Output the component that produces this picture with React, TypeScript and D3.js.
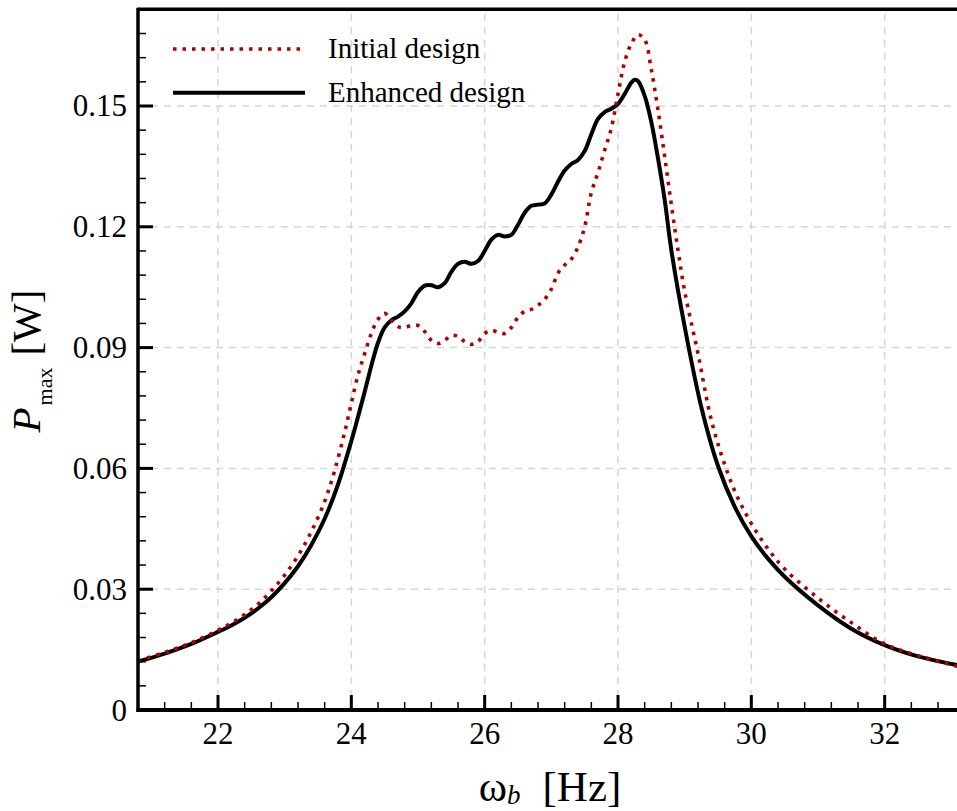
import React from "react";
import * as d3 from "d3";

const initialFreq = [20.8, 21.2, 21.6, 22.0, 22.2, 22.4, 22.6, 22.8, 23.0, 23.2, 23.4, 23.6, 23.75, 23.9, 24.0, 24.1, 24.2, 24.3, 24.4, 24.5, 24.6, 24.7, 24.8, 24.9, 25.0, 25.1, 25.2, 25.3, 25.4, 25.5, 25.6, 25.7, 25.8, 25.9, 26.0, 26.1, 26.2, 26.3, 26.4, 26.5, 26.6, 26.7, 26.8, 26.9, 27.0, 27.1, 27.2, 27.3, 27.4, 27.5, 27.6, 27.7, 27.8, 27.9, 28.0, 28.1, 28.2, 28.3, 28.4, 28.5, 28.6, 28.7, 28.8, 28.9, 29.0, 29.2, 29.4, 29.62, 29.8, 30.0, 30.25, 30.5, 31.0, 31.5, 32.0, 32.5, 33.1];
const initialPower = [0.0122, 0.0143, 0.0167, 0.0198, 0.0216, 0.0237, 0.0263, 0.0296, 0.0335, 0.0383, 0.0443, 0.0518, 0.0595, 0.0690, 0.0762, 0.0832, 0.0885, 0.0935, 0.0970, 0.0985, 0.0968, 0.0952, 0.0950, 0.0955, 0.0955, 0.0940, 0.0918, 0.0910, 0.0918, 0.0930, 0.0928, 0.0915, 0.0908, 0.0915, 0.0935, 0.0943, 0.0938, 0.0935, 0.0950, 0.0975, 0.0990, 0.0995, 0.1005, 0.1020, 0.1045, 0.1085, 0.1105, 0.1120, 0.1150, 0.1200, 0.1285, 0.1335, 0.1390, 0.1445, 0.1530, 0.1610, 0.1655, 0.1677, 0.1665, 0.1590, 0.1490, 0.1375, 0.1255, 0.1142, 0.1040, 0.0885, 0.0720, 0.0600, 0.0526, 0.0463, 0.0400, 0.0350, 0.0278, 0.0217, 0.0164, 0.0135, 0.0108];

const enhancedFreq = [20.8, 21.2, 21.6, 22.0, 22.2, 22.4, 22.6, 22.8, 23.0, 23.2, 23.4, 23.6, 23.8, 24.0, 24.1, 24.2, 24.3, 24.4, 24.5, 24.6, 24.7, 24.8, 24.9, 25.0, 25.1, 25.2, 25.3, 25.4, 25.5, 25.6, 25.7, 25.8, 25.9, 26.0, 26.1, 26.2, 26.3, 26.4, 26.5, 26.6, 26.7, 26.8, 26.9, 27.0, 27.1, 27.2, 27.3, 27.4, 27.5, 27.6, 27.7, 27.8, 27.9, 28.0, 28.1, 28.2, 28.25, 28.3, 28.4, 28.5, 28.6, 28.7, 28.8, 29.0, 29.25, 29.5, 29.75, 30.0, 30.25, 30.5, 31.0, 31.5, 32.0, 32.5, 33.1];
const enhancedPower = [0.0120, 0.0140, 0.0164, 0.0194, 0.0210, 0.0229, 0.0252, 0.0280, 0.0315, 0.0357, 0.0410, 0.0475, 0.0560, 0.0668, 0.0728, 0.0790, 0.0855, 0.0912, 0.0950, 0.0968, 0.0977, 0.0990, 0.1010, 0.1038, 0.1054, 0.1055, 0.1050, 0.1060, 0.1088, 0.1108, 0.1113, 0.1108, 0.1115, 0.1140, 0.1168, 0.1180, 0.1176, 0.1180, 0.1205, 0.1235, 0.1252, 0.1255, 0.1258, 0.1280, 0.1312, 0.1340, 0.1356, 0.1366, 0.1388, 0.1430, 0.1468, 0.1485, 0.1493, 0.1505, 0.1530, 0.1558, 0.1565, 0.1562, 0.1525, 0.1460, 0.1370, 0.1267, 0.1142, 0.0952, 0.0752, 0.0606, 0.0505, 0.0431, 0.0376, 0.0331, 0.0260, 0.0202, 0.0161, 0.0133, 0.0111];

const xMajorTicks = [22, 24, 26, 28, 30, 32];
const yMajorTicks = [0, 0.03, 0.06, 0.09, 0.12, 0.15];
const yTickLabels = ["0", "0.03", "0.06", "0.09", "0.12", "0.15"];
const legendLabels = ["Initial design", "Enhanced design"];

const W = 957;
const H = 811;
const left = 138;
const bottom = 710;
const XMIN = 20.8;
const XMAX = 33.1;
const YMAX = 0.174;

const FONT = "Liberation Serif, Times New Roman, Times, serif";
const RED = "#b00000";
const GRID = "#d6d6d6";

export default function App() {
  const x = d3.scaleLinear().domain([XMIN, XMAX]).range([left, left + (XMAX - XMIN) * 66.667]);
  const y = d3.scaleLinear().domain([0, YMAX]).range([bottom, bottom - YMAX * 4026.7]);
  const top = y(YMAX);

  const xMinor = d3.range(21.2, 33.05, 0.4).filter((v) => !xMajorTicks.some((m) => Math.abs(m - v) < 1e-6));
  const yMinor = d3.range(0.006, 0.1705, 0.006).filter((v) => !yMajorTicks.some((m) => Math.abs(m - v) < 1e-6));

  const line = d3
    .line<[number, number]>()
    .x((d) => x(d[0]))
    .y((d) => y(d[1]))
    .curve(d3.curveCatmullRom.alpha(0.5));

  const initialData = initialFreq.map((f, i) => [f, initialPower[i]] as [number, number]);
  const enhancedData = enhancedFreq.map((f, i) => [f, enhancedPower[i]] as [number, number]);

  const ts = { fontFamily: FONT };

  return (
    <div style={{ position: "absolute", left: 0, top: 0 }}>
      <svg width={W} height={H} style={{ display: "block", background: "#fff", fontFamily: FONT }}>
        <defs>
          <clipPath id="plotClip">
            <rect x={left} y={top} width={W - left} height={bottom - top} />
          </clipPath>
        </defs>
        <rect x={0} y={0} width={W} height={H} fill="#fff" />
        {/* grid */}
        <g stroke={GRID} strokeWidth={1.5} strokeDasharray="7 6">
          {xMajorTicks.map((t) => (
            <line key={"gx" + t} x1={x(t)} x2={x(t)} y1={bottom} y2={top} />
          ))}
          {yMajorTicks.filter((t) => t > 0).map((t) => (
            <line key={"gy" + t} x1={left} x2={W} y1={y(t)} y2={y(t)} />
          ))}
        </g>
        {/* curves */}
        <g clipPath="url(#plotClip)" fill="none">
          <path d={line(enhancedData) || ""} stroke="#000" strokeWidth={4} strokeLinejoin="round" />
          <path d={line(initialData) || ""} stroke={RED} strokeWidth={3.6} strokeDasharray="3.5 6" />
        </g>
        {/* axes */}
        <g stroke="#000">
          <line x1={left} x2={W} y1={top} y2={top} strokeWidth={3.5} />
          <line x1={left} x2={left} y1={top - 1.5} y2={bottom + 2} strokeWidth={3.5} />
          <line x1={left - 1.5} x2={W} y1={bottom} y2={bottom} strokeWidth={4} />
          {xMajorTicks.map((t) => (
            <line key={"xt" + t} x1={x(t)} x2={x(t)} y1={bottom} y2={bottom - 15} strokeWidth={3} />
          ))}
          {xMinor.map((t) => (
            <line key={"xm" + t} x1={x(t)} x2={x(t)} y1={bottom} y2={bottom - 8} strokeWidth={1.5} />
          ))}
          {yMajorTicks.map((t) => (
            <line key={"yt" + t} x1={left} x2={left + 15} y1={y(t)} y2={y(t)} strokeWidth={3} />
          ))}
          {yMinor.map((t) => (
            <line key={"ym" + t} x1={left} x2={left + 8} y1={y(t)} y2={y(t)} strokeWidth={1.5} />
          ))}
        </g>
        {/* tick labels */}
        <g fontSize={31} fill="#000">
          {xMajorTicks.map((t) => (
            <text key={"xl" + t} x={x(t)} y={744} textAnchor="middle" style={ts}>
              {String(t)}
            </text>
          ))}
          {yMajorTicks.map((t, i) => (
            <text key={"yl" + t} x={127} y={y(t) + 10.5} textAnchor="end" style={ts}>
              {yTickLabels[i]}
            </text>
          ))}
        </g>
        {/* axis titles */}
        <text x={550} y={801} fontSize={43} textAnchor="middle" fill="#000" style={ts}>
          <tspan>ω</tspan>
          <tspan fontStyle="italic" fontSize={27} dy={3}>b</tspan>
          <tspan dy={-3} dx={22}>[Hz]</tspan>
        </text>
        <text transform="translate(40,361) rotate(-90)" fontSize={41} textAnchor="middle" fill="#000" style={ts}>
          <tspan fontStyle="italic">P</tspan>
          <tspan fontSize={22} dy={12} dx={2}>max</tspan>
          <tspan dy={-12} dx={12}>[W]</tspan>
        </text>
        {/* legend */}
        <g>
          <line x1={173} x2={303} y1={49} y2={49} stroke={RED} strokeWidth={3.6} strokeDasharray="3.5 6" />
          <line x1={173} x2={305} y1={92.7} y2={92.7} stroke="#000" strokeWidth={4} />
          <text x={328} y={58} fontSize={29} fill="#000" style={ts}>{legendLabels[0]}</text>
          <text x={328} y={102} fontSize={29} fill="#000" style={ts}>{legendLabels[1]}</text>
        </g>
      </svg>
    </div>
  );
}
